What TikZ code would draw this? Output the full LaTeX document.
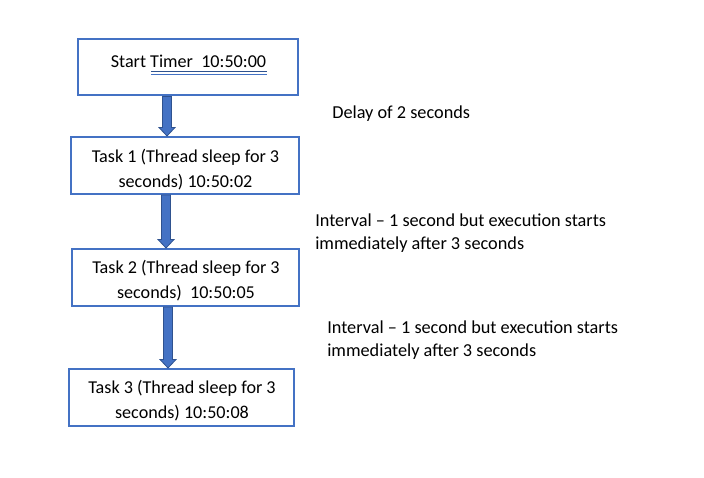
\documentclass[tikz,border=0pt]{standalone}
\usepackage{fontspec}
\setmainfont{Carlito}
\usetikzlibrary{calc}
\definecolor{boxblue}{HTML}{4472C4}
\definecolor{arrline}{HTML}{2F528F}
\tikzset{
  x=0.75pt, y=-0.75pt,
  box/.style={draw=boxblue, line width=1.5pt, fill=white, inner sep=0pt},
  txt/.style={font=\fontsize{13.6pt}{18.75pt}\selectfont, align=center, inner sep=0pt, text=black},
  side/.style={font=\fontsize{13.7pt}{17.25pt}\selectfont, align=left, inner sep=0pt, anchor=west, text=black},
  barrow/.style={fill=boxblue, draw=arrline, line width=0.6pt, line join=miter}
}
\newcommand\blockarr[2]{%
  \path[barrow] ($(#1)+(-4.5,0)$) -- ($(#2)+(-4.5,-8.5)$) -- ($(#2)+(-8,-8.5)$) -- (#2)
    -- ($(#2)+(8,-8.5)$) -- ($(#2)+(4.5,-8.5)$) -- ($(#1)+(4.5,0)$) -- cycle;}
\begin{document}
\begin{tikzpicture}
\useasboundingbox (0,0) rectangle (704,478);
\fill[white] (0,0) rectangle (704,478);
% boxes
\node[box, minimum width=165pt, minimum height=42pt] (b0) at (187.5,67.5) {};
\node[box, minimum width=171pt, minimum height=42.75pt] (b1) at (185,165.5) {};
\node[box, minimum width=170.25pt, minimum height=42.75pt] (b2) at (185.5,277.5) {};
\node[box, minimum width=168.75pt, minimum height=42.75pt] (b3) at (181.5,397.5) {};
% box texts
\node[txt] (t0) at (188.5,61) {Start Timer\ \ 10:50:00};
\node[txt] (t1) at (185.5,169.5) {Task 1 (Thread sleep for 3\\seconds) 10:50:02};
\node[txt] (t2) at (186,281) {Task 2 (Thread sleep for 3\\seconds)\ \ 10:50:05};
\node[txt] (t3) at (182,400.5) {Task 3 (Thread sleep for 3\\seconds) 10:50:08};
% double underline
\draw[line width=0.6pt, color=arrline] (151,71.8) coordinate (u0) -- (267,71.8) coordinate (u1);
\draw[line width=0.6pt, color=boxblue] (151,74.5) coordinate (u2) -- (267,74.5) coordinate (u3);
% block arrows between boxes
\coordinate (a1s) at ($(b0.south)+(-20.5,0)$);
\coordinate (a1e) at ($(b1.north)+(-18,0)$);
\coordinate (a2s) at ($(b1.south)+(-19,0)$);
\coordinate (a2e) at ($(b2.north)+(-19.5,0)$);
\coordinate (a3s) at ($(b2.south)+(-17.5,0)$);
\coordinate (a3e) at ($(b3.north)+(-13.5,0)$);
\blockarr{a1s}{a1e}
\blockarr{a2s}{a2e}
\blockarr{a3s}{a3e}
% side texts
\node[side] (s1) at (332,114) {Delay of 2 seconds};
\node[side] (s2) at (315,233) {Interval – 1 second but execution starts\\immediately after 3 seconds};
\node[side] (s3) at (327,340) {Interval – 1 second but execution starts\\immediately after 3 seconds};
\end{tikzpicture}
\end{document}
